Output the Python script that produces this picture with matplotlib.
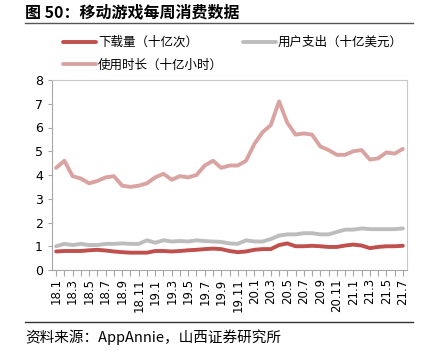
import numpy as np
import matplotlib
matplotlib.use("Agg")
import matplotlib.pyplot as plt

plt.rcParams['font.family'] = ['Noto Sans CJK SC', 'DejaVu Sans']

# mesi 18.1 ... 21.7
mesi = [f"{a}.{m}" for a in (18, 19, 20, 21) for m in range(1, 13)][:43]

download = [0.78, 0.80, 0.80, 0.80, 0.83, 0.85, 0.82, 0.78, 0.75, 0.73, 0.73, 0.73,
            0.80, 0.80, 0.78, 0.80, 0.83, 0.85, 0.88, 0.90, 0.88, 0.80, 0.75, 0.78,
            0.85, 0.88, 0.88, 1.05, 1.12, 1.00, 1.00, 1.02, 1.00, 0.97, 0.97, 1.03,
            1.07, 1.03, 0.92, 0.97, 1.00, 1.00, 1.02]
spesa = [1.00, 1.10, 1.05, 1.10, 1.05, 1.05, 1.10, 1.10, 1.12, 1.10, 1.10, 1.25,
         1.15, 1.25, 1.20, 1.22, 1.20, 1.25, 1.22, 1.20, 1.18, 1.12, 1.10, 1.25,
         1.20, 1.20, 1.30, 1.45, 1.50, 1.50, 1.55, 1.55, 1.50, 1.50, 1.60, 1.70,
         1.70, 1.75, 1.72, 1.72, 1.72, 1.72, 1.75]
tempo = [4.30, 4.60, 3.95, 3.85, 3.65, 3.75, 3.90, 3.95, 3.55, 3.50, 3.55, 3.65,
         3.90, 4.05, 3.80, 3.95, 3.90, 4.00, 4.40, 4.60, 4.30, 4.40, 4.40, 4.60,
         5.30, 5.80, 6.10, 7.10, 6.20, 5.70, 5.75, 5.70, 5.20, 5.05, 4.85, 4.85,
         5.00, 5.05, 4.65, 4.70, 4.95, 4.90, 5.10]

fig = plt.figure(figsize=(4.24, 3.59), dpi=100)
ax = fig.add_axes([52/424, 89/359, 355/424, 190/359])

x = np.arange(len(mesi))
l1, = ax.plot(x, download, color="#C0504D", lw=2.8, label="下载量（十亿次）", solid_capstyle="round")
l2, = ax.plot(x, spesa, color="#BDBDBD", lw=2.8, label="用户支出（十亿美元）", solid_capstyle="round")
l3, = ax.plot(x, tempo, color="#D9A3A1", lw=2.8, label="使用时长（十亿小时）", solid_capstyle="round")

ax.set_xlim(-0.5, len(mesi) - 0.5)
ax.set_ylim(0, 8)
ax.set_yticks(range(0, 9))
ax.set_xticks(x, minor=False)
ax.set_xticklabels([m if i % 2 == 0 else "" for i, m in enumerate(mesi)],
                   rotation=90, fontsize=8.5, family=["DejaVu Sans"])
ax.tick_params(axis="y", labelsize=9, length=3, color="#A6A6A6")
ax.tick_params(axis="x", length=4, color="#A6A6A6", pad=2)
for lab in ax.get_yticklabels():
    lab.set_family(["DejaVu Sans"])
for s in ax.spines.values():
    s.set_color("#C8C8C8")
ax.spines["left"].set_color("#A6A6A6")
ax.spines["bottom"].set_color("#A6A6A6")

# ordine per colonne: col1 = download, tempo ; col2 = spesa
fig.legend([l1, l3, l2], [l1.get_label(), l3.get_label(), l2.get_label()],
           loc="upper left", bbox_to_anchor=(58/424, 1 - 31/359), ncol=2,
           frameon=False, fontsize=9, handlelength=2.6, handletextpad=0.2,
           columnspacing=1.6, labelspacing=0.75, borderaxespad=0)

fig.text(25/424, 1 - 12/359, "图 50：移动游戏每周消费数据", fontsize=11.5,
         fontweight="bold", va="center", ha="left")
fig.add_artist(plt.Line2D([25/424, 413/424], [1 - 23/359] * 2, color="#555555", lw=1))
fig.add_artist(plt.Line2D([25/424, 413/424], [1 - 322/359] * 2, color="#333333", lw=1))
fig.text(25/424, 1 - 337/359, "资料来源：AppAnnie，山西证券研究所", fontsize=10.5,
         va="center", ha="left")

fig.savefig("out.png", dpi=100)
